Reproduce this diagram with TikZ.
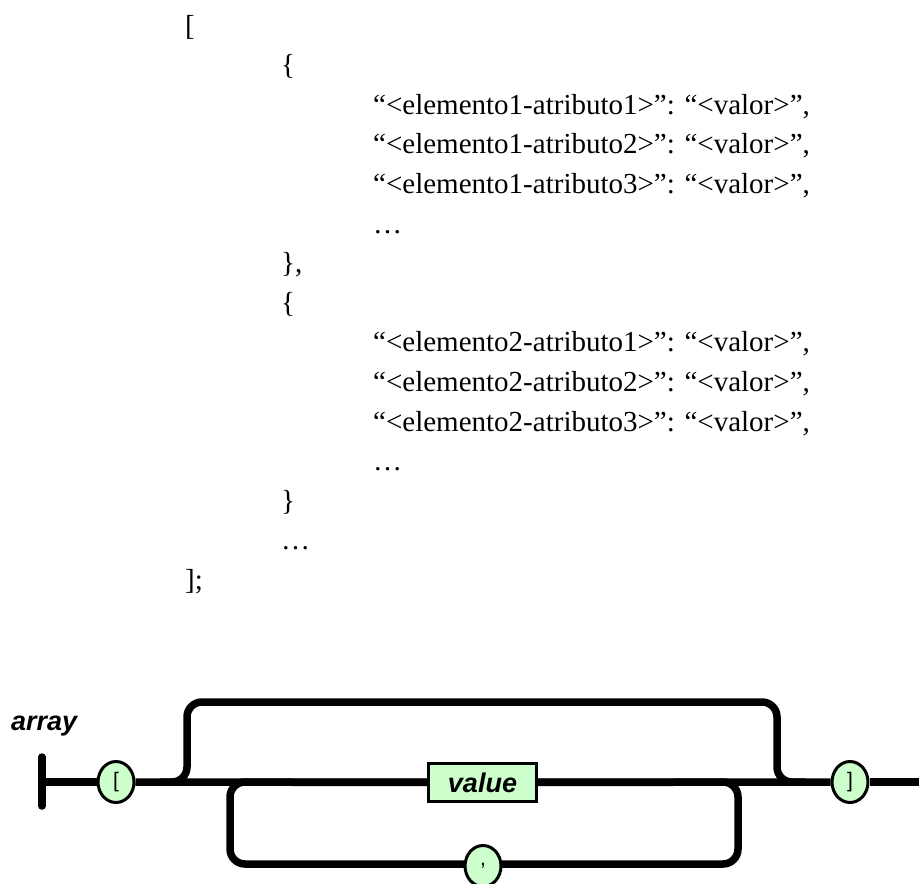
\documentclass[tikz,border=0pt]{standalone}
\usepackage{fontspec}
\setmainfont{Liberation Serif}
\newfontfamily\railfont{Liberation Sans}
\usetikzlibrary{shapes.geometric}
\definecolor{railgreen}{HTML}{CCFFCC}
\begin{document}
\begin{tikzpicture}[x=1pt,y=-1pt,
  rail/.style={line width=7.5pt, line cap=butt},
  railbar/.style={line width=7.5pt, line cap=round},
  term/.style={ellipse, draw, line width=3pt, fill=railgreen, minimum width=36pt, minimum height=41pt, inner sep=0pt, font=\railfont\fontsize{21}{21}\selectfont},
  nonterm/.style={rectangle, draw, line width=3pt, fill=railgreen, minimum width=108pt, minimum height=38pt, inner sep=0pt, font=\railfont\bfseries\itshape\fontsize{27}{27}\selectfont},
  code/.style={anchor=base west, inner sep=0pt, font=\fontsize{29}{29}\selectfont},
  label/.style={anchor=base west, inner sep=0pt, font=\railfont\bfseries\itshape\fontsize{27}{27}\selectfont}]
\useasboundingbox (0,0) rectangle (919,884);
% code listing
\node[code] (r0)  at (185,35)    {[};
\node[code] (r1)  at (281,74.6)  {\{};
\node[code] (r2)  at (373,114.2) {“<elemento1-atributo1>”: “<valor>”,};
\node[code] (r3)  at (373,153.8) {“<elemento1-atributo2>”: “<valor>”,};
\node[code] (r4)  at (373,193.4) {“<elemento1-atributo3>”: “<valor>”,};
\node[code] (r5)  at (373,233.0) {…};
\node[code] (r6)  at (281,272.6) {\},};
\node[code] (r7)  at (281,312.2) {\{};
\node[code] (r8)  at (373,351.8) {“<elemento2-atributo1>”: “<valor>”,};
\node[code] (r9)  at (373,391.4) {“<elemento2-atributo2>”: “<valor>”,};
\node[code] (r10) at (373,431.0) {“<elemento2-atributo3>”: “<valor>”,};
\node[code] (r11) at (373,470.6) {…};
\node[code] (r12) at (281,510.2) {\}};
\node[code] (r13) at (281,549.8) {…};
\node[code] (r14) at (185,589.4) {];};
% railroad diagram
\node[label] (arr) at (11,730) {array};
\coordinate (bartop) at (42,757);
\coordinate (barbot) at (42,806);
\coordinate (start) at (42,782);
\coordinate (finish) at (925,782);
\draw[railbar] (bartop) -- (barbot);
\draw[rail, rounded corners=15pt] (160,782) -| (187,702) -| (777,782) -- (805,782);
\draw[rail, rounded corners=15pt] (230,782) rectangle (738,864);
\node[term] (lb) at (116,782) {[};
\node[nonterm] (val) at (482.5,782.5) {value};
\node[term] (cm) at (483,866) {,};
\node[term] (rb) at (850,782) {]};
\draw[rail] (start) -- (lb);
\draw[rail] (lb) -- (val);
\draw[rail] (val) -- (rb);
\draw[rail] (rb) -- (finish);
\end{tikzpicture}
\end{document}
